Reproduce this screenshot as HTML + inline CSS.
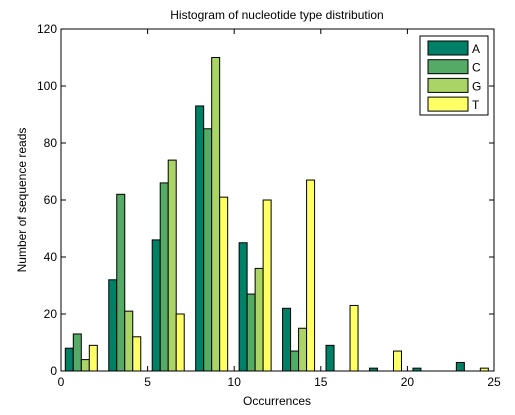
<!DOCTYPE html>
<html><head><meta charset="utf-8"><style>
body{margin:0;background:#fff;}
svg{display:block;font-family:"Liberation Sans",sans-serif;}
</style></head><body>
<svg id="chart" width="515" height="415">
<rect width="515" height="415" fill="#fff"/>
<text x="277" y="19" font-size="12" text-anchor="middle">Histogram of nucleotide type distribution</text>
<text x="277" y="405" font-size="12" text-anchor="middle">Occurrences</text>
<text transform="translate(26,200) rotate(-90)" font-size="12" text-anchor="middle">Number of sequence reads</text>
<g id="bars"></g>
<g id="axes"></g>
<g id="legend"></g>
</svg>
<script>
const binCenters=[1.172,3.681,6.19,8.699,11.208,13.717,16.226,18.735,21.244,23.75];
const seriesNames=["A","C","G","T"];
const valuesA=[8,32,46,93,45,22,9,1,1,3];
const valuesC=[13,62,66,85,27,7,0,0,0,0];
const valuesG=[4,21,74,110,36,15,0,0,0,0];
const valuesT=[9,12,20,61,60,67,23,7,0,1];
const xTicks=[0,5,10,15,20,25];
const yTicks=[0,20,40,60,80,100,120];
const colors=["#008066","#55aa66","#aad466","#ffff66"];
const L=61,R=494,T=29,B=371;
const xs=v=>L+(v-0)/25*(R-L);
const ys=v=>B-v/120*(B-T);
const NS="http://www.w3.org/2000/svg";
function mk(tag,attrs,parent){const e=document.createElementNS(NS,tag);for(const k in attrs)e.setAttribute(k,attrs[k]);parent.appendChild(e);return e;}
const bars=document.getElementById('bars');
const all=[valuesA,valuesC,valuesG,valuesT];
const bw=0.462;
all.forEach((vals,s)=>{vals.forEach((v,i)=>{
  if(v<=0)return;
  const x0=xs(binCenters[i]-2*bw+s*bw),x1=xs(binCenters[i]-2*bw+(s+1)*bw);
  const r=mk('rect',{x:x0,y:ys(v),width:x1-x0,height:ys(0)-ys(v),fill:colors[s],stroke:"#000","stroke-width":1},bars);
  
  
});});
const ax=document.getElementById('axes');
const fr=mk('rect',{x:L,y:T,width:R-L,height:B-T,fill:"none",stroke:"#000","stroke-width":1},ax);


xTicks.forEach(t=>{const x=xs(t);
  mk('line',{x1:x,x2:x,y1:B,y2:B-5,stroke:"#000"},ax);
  mk('line',{x1:x,x2:x,y1:T,y2:T+5,stroke:"#000"},ax);
  const tx=mk('text',{x:x,y:B+15,"font-size":12,"text-anchor":"middle"},ax);tx.textContent=t;
  
  
});
yTicks.forEach(t=>{const y=ys(t);
  mk('line',{x1:L,x2:L+5,y1:y,y2:y,stroke:"#000"},ax);
  mk('line',{x1:R,x2:R-5,y1:y,y2:y,stroke:"#000"},ax);
  const tx=mk('text',{x:L-4,y:y+4,"font-size":12,"text-anchor":"end"},ax);tx.textContent=t;
  
  
});
const lg=document.getElementById('legend');
mk('rect',{x:420,y:36,width:68,height:79,fill:"#fff",stroke:"#000"},lg);
seriesNames.forEach((n,i)=>{const y=41+i*18.7;
  const sw=mk('rect',{x:428,y:y,width:40,height:14,fill:colors[i],stroke:"#000"},lg);
  
  
  const tx=mk('text',{x:472,y:y+12,"font-size":12},lg);tx.textContent=n;
  
  
});
</script>
</body></html>
